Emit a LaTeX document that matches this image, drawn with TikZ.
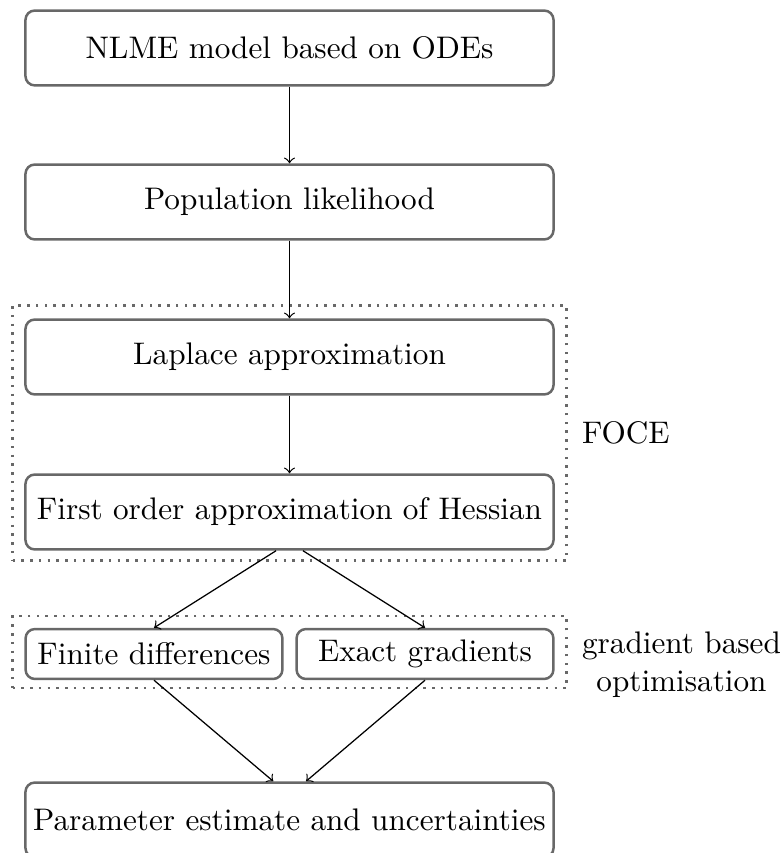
\documentclass[tikz,border=0pt]{standalone}
\usetikzlibrary{fit}
\definecolor{boxgray}{HTML}{686868}
\begin{document}
\begin{tikzpicture}[x=0.3204pt,y=-0.3204pt,
  stepbox/.style={draw=boxgray, thick, rounded corners=3pt, align=center, inner sep=0pt, font=\normalsize},
  widebox/.style={stepbox, minimum width=169.2pt, minimum height=24pt},
  smallbox/.style={stepbox, minimum width=82.3pt, minimum height=16pt},
  groupbox/.style={draw=boxgray, thick, dotted, inner sep=0pt},
  conn/.style={->, black, line width=0.4pt},
  grouplabel/.style={anchor=west, align=center, inner sep=3.33pt}]
\useasboundingbox (0,0) rectangle (779,853);
\node[widebox] (b1) at (289.5,48) {NLME model based on ODEs};
\node[widebox] (b2) at (289.5,202) {Population likelihood};
\node[widebox] (b3) at (289.5,357) {Laplace approximation};
\node[widebox] (b4) at (289.5,512) {First order approximation of Hessian};
\node[smallbox] (b5) at (154,654) {Finite differences};
\node[smallbox] (b6) at (425,654) {Exact gradients};
\node[widebox] (b7) at (289.5,820) {Parameter estimate and uncertainties};
\coordinate (g1a) at (12.7,305.7);
\coordinate (g1b) at (566.7,560.5);
\coordinate (g2a) at (12.7,616);
\coordinate (g2b) at (566.7,688);
\node[groupbox, fit=(g1a)(g1b)] (f1) {};
\node[groupbox, fit=(g2a)(g2b)] (f2) {};
\node[grouplabel] (l1) at ([xshift=1pt]f1.east) {FOCE};
\node[grouplabel] (l2) at ([xshift=1pt,yshift=-4pt]f2.east) {gradient based\\optimisation};
\draw[conn] (b1) -- (b2);
\draw[conn] (b2) -- (b3);
\draw[conn] (b3) -- (b4);
\draw[conn] ([xshift=-4.3pt]b4.south) -- (b5.north);
\draw[conn] ([xshift=4.3pt]b4.south) -- (b6.north);
\draw[conn] (b5.south) -- ([xshift=-5.2pt]b7.north);
\draw[conn] (b6.south) -- ([xshift=5.3pt]b7.north);
\end{tikzpicture}
\end{document}
